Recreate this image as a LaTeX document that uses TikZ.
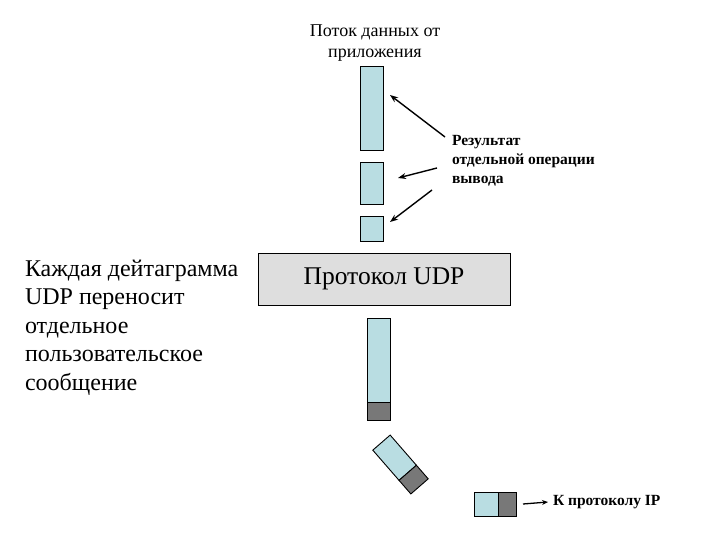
\documentclass[tikz,border=0pt]{standalone}
\usepackage{fontspec}
\setmainfont{Liberation Serif}
\usetikzlibrary{arrows.meta}
\definecolor{segblue}{RGB}{185,221,226}
\definecolor{hdrgray}{RGB}{120,120,120}
\definecolor{boxgray}{RGB}{222,222,222}
\begin{document}
\begin{tikzpicture}[x=1pt, y=-1pt]
            {
                \tikzset{every node/.style = {inner sep=0pt, outer sep=0pt}}
                \tikzset{seg/.style = {draw, line width=0.9pt, fill=segblue}}
                \tikzset{hdr/.style = {draw, line width=0.9pt, fill=hdrgray}}

                \useasboundingbox (0, 0) rectangle (720, 540);

                \node[align=center, font=\fontsize{18}{20.5}\selectfont] (title) at (375, 43) {Поток данных от\\приложения};

                % segments written by the application
                \node[seg, minimum width=23pt, minimum height=84pt] (s1) at (372, 108) {};
                \node[seg, minimum width=23pt, minimum height=42pt] (s2) at (372, 183) {};
                \node[seg, minimum width=23pt, minimum height=25pt] (s3) at (372, 228.5) {};

                \node[anchor=north west, align=left, font=\bfseries\fontsize{15.5}{19}\selectfont] (res) at (452, 135) {Результат\\отдельной операции\\вывода};

                \node[draw, line width=0.9pt, fill=boxgray, minimum width=252pt, minimum height=52pt, font=\fontsize{25.5}{28}\selectfont] (udp) at (384, 279) {Протокол UDP};

                \node[anchor=north west, align=left, font=\fontsize{24}{28.5}\selectfont] (note) at (25, 260) {Каждая дейтаграмма\\UDP переносит\\отдельное\\пользовательское\\сообщение};

                % datagram leaving the protocol
                \node[seg, minimum width=23pt, minimum height=84pt] (d1) at (378.5, 360) {};
                \node[hdr, minimum width=23pt, minimum height=18pt] (h1) at (378.5, 411) {};

                \begin{scope}[shift={(400.5, 464.5)}, rotate=-49]
                    \draw[seg] (-29, -11.5) rectangle (11, 11.5);
                    \draw[hdr] (11, -11.5) rectangle (29, 11.5);
                \end{scope}

                \node[seg, minimum width=24pt, minimum height=24pt] (d3) at (486, 504) {};
                \node[hdr, minimum width=18pt, minimum height=24pt] (h3) at (507, 504) {};

                \node[anchor=west, font=\bfseries\fontsize{15.5}{18}\selectfont] (ip) at (553, 502) {К протоколу IP};

                \coordinate (t1) at (445, 137);
                \coordinate (t2) at (437, 168);
                \coordinate (t3) at (432, 190);
                \coordinate (e1) at (390, 95);
                \coordinate (e2) at (398, 178);
                \coordinate (e3) at (390, 222);
                \coordinate (ipa) at (523, 504);
            }

            \draw[-{Stealth[length=8pt, width=6pt]}, line width=1.4pt] (t1) -- (e1);
            \draw[-{Stealth[length=8pt, width=6pt]}, line width=1.4pt] (t2) -- (e2);
            \draw[-{Stealth[length=8pt, width=6pt]}, line width=1.4pt] (t3) -- (e3);
            \draw[-{Stealth[length=6pt, width=5pt]}, line width=1.3pt] (ipa) -- ([xshift=-5pt]ip.west);

        \end{tikzpicture}
\end{document}
